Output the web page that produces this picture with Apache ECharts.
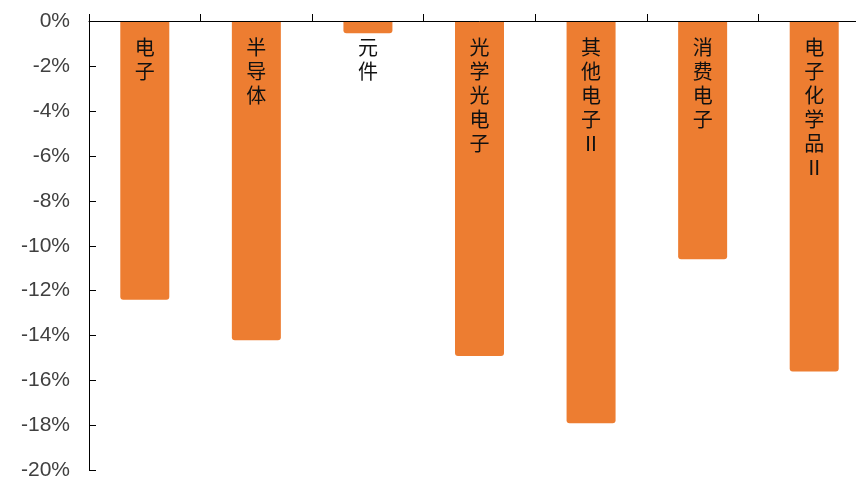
<!DOCTYPE html>
<html>
<head>
<meta charset="utf-8">
<script src="https://cdn.jsdelivr.net/npm/echarts@6/dist/echarts.min.js"></script>
<style>
  html, body { margin: 0; padding: 0; background: #fff; overflow: hidden; }
  #chart { width: 870px; height: 481px; }
</style>
</head>
<body>
<div id="chart"></div>
<script>
// categories and values (percent change)
let categories = ['电子', '半导体', '元件', '光学光电子', '其他电子Ⅱ', '消费电子', '电子化学品Ⅱ'];
let changes = [-12.4, -14.2, -0.55, -14.9, -17.9, -10.6, -15.6];

// the plot runs a little past the right edge of the window, as in the original
let chart = echarts.init(document.getElementById('chart'));

let option = {
    animation: false,
    grid: {
        left: 89,
        top: 21,
        bottom: 8,
        right: 0
    },
    xAxis: {
        type: 'category',
        position: 'top',
        data: categories,
        z: 10,
        axisLine: { lineStyle: { color: '#000', width: 1 } },
        axisTick: { show: true, length: 7, inside: false, lineStyle: { color: '#000' } },
        axisLabel: {
            inside: true,
            margin: 14,
            verticalAlign: 'top',
            fontFamily: 'Noto Sans CJK SC',
            fontSize: 20,
            lineHeight: 24,
            color: '#111',
            formatter: function (v) {
                return v.split('').join('\n');
            }
        }
    },
    yAxis: {
        type: 'value',
        min: -20,
        max: 0,
        interval: 2,
        splitLine: { show: false },
        axisLine: { show: true, lineStyle: { color: '#000', width: 1 } },
        axisTick: { show: true, inside: true, length: 7, lineStyle: { color: '#000' } },
        axisLabel: {
            margin: 19,
            fontFamily: 'Liberation Sans',
            fontSize: 21,
            color: '#404040',
            formatter: function (v) {
                return v + '%';
            }
        }
    },
    series: [
        {
            type: 'bar',
            data: changes,
            barWidth: 49,
            itemStyle: {
                color: '#ED7D31',
                borderRadius: [0, 0, 3, 3]
            }
        }
    ]
};

chart.setOption(option);
</script>
</body>
</html>
